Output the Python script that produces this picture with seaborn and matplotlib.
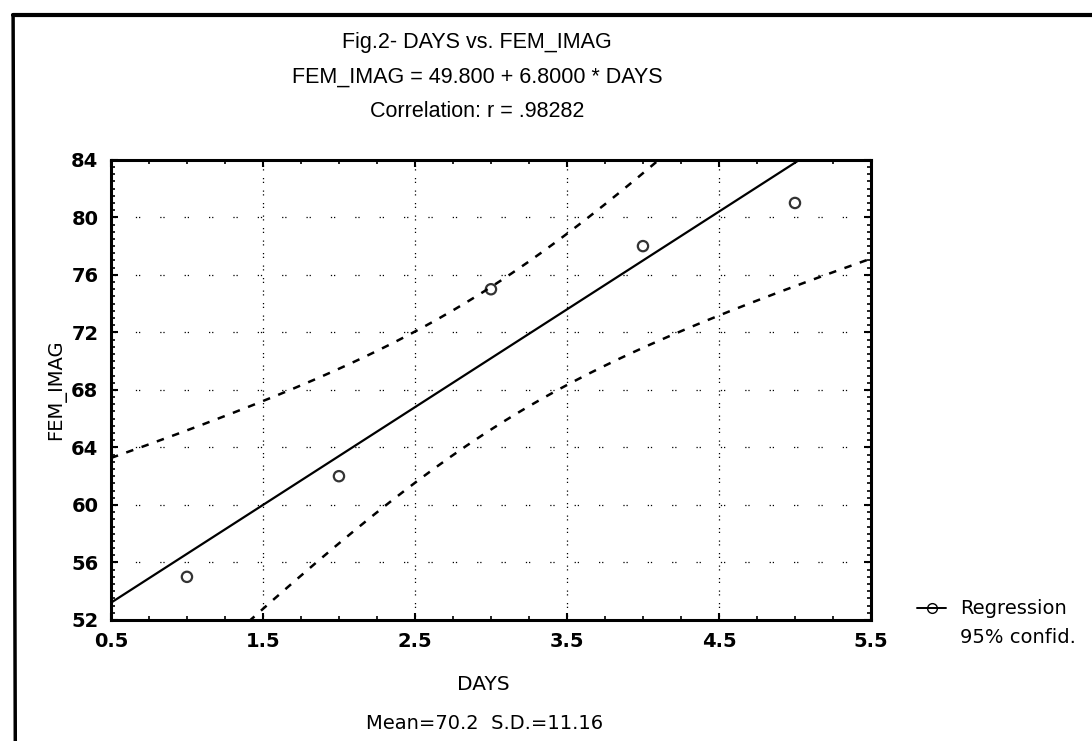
import numpy as np
import pandas as pd
import matplotlib
matplotlib.use("Agg")
import matplotlib.pyplot as plt
from matplotlib.lines import Line2D
from matplotlib.ticker import MultipleLocator
import seaborn as sns

# ---- data ----
days = [1, 2, 3, 4, 5]
fem_imag = [55, 62, 75, 78, 81]
x_ticks = [0.5, 1.5, 2.5, 3.5, 4.5, 5.5]
y_ticks = [52, 56, 60, 64, 68, 72, 76, 80, 84]
title_lines = ["Fig.2- DAYS vs. FEM_IMAG",
               "FEM_IMAG = 49.800 + 6.8000 * DAYS",
               "Correlation: r = .98282"]
footer = "Mean=70.2  S.D.=11.16"
legend_labels = ["Regression", "95% confid."]
T_975_DF3 = 3.182  # Student t quantile, 95% two-sided, df = n-2 = 3

df = pd.DataFrame({"DAYS": days, "FEM_IMAG": fem_imag})

sns.set_theme(style="white")
plt.rcParams['font.family'] = ['DejaVu Sans']
plt.rcParams.update({"text.color": "black", "axes.labelcolor": "black",
                     "xtick.color": "black", "ytick.color": "black"})

fig = plt.figure(figsize=(10.92, 7.41), dpi=100)
fig.patch.set_facecolor("white")
ax = fig.add_axes([0.1016, 0.1633, 0.696, 0.621])
ax.set_xlim(0.5, 5.5)
ax.set_ylim(52, 84)

# regression line + points
sns.regplot(data=df, x="DAYS", y="FEM_IMAG", ax=ax, ci=None, truncate=False,
            scatter_kws=dict(marker="o", s=55, facecolors="none",
                             edgecolors="black", linewidths=1.6, zorder=4),
            line_kws=dict(color="black", lw=1.6, zorder=3))

# 95% confidence band of the mean (computed from data)
x = np.asarray(days, float)
y = np.asarray(fem_imag, float)
n = len(x)
b, a = np.polyfit(x, y, 1)
resid = y - (a + b * x)
s = np.sqrt(np.sum(resid ** 2) / (n - 2))
xs = np.linspace(0.5, 5.5, 200)
se = s * np.sqrt(1.0 / n + (xs - x.mean()) ** 2 / np.sum((x - x.mean()) ** 2))
yhat = a + b * xs
ax.plot(xs, yhat + T_975_DF3 * se, color="black", lw=1.8, ls=(0, (3, 3.5)), zorder=3)
ax.plot(xs, yhat - T_975_DF3 * se, color="black", lw=1.8, ls=(0, (3, 3.5)), zorder=3)

# ticks / grid
ax.set_xticks(x_ticks)
ax.set_yticks(y_ticks)
ax.set_xticklabels([f"{t:.1f}" for t in x_ticks])
ax.set_yticklabels([str(t) for t in y_ticks])
ax.xaxis.set_minor_locator(MultipleLocator(0.25))
ax.yaxis.set_minor_locator(MultipleLocator(0.5))
ax.tick_params(which="both", direction="in", top=True, right=True,
               bottom=True, left=True, color="black", labelcolor="black")
ax.tick_params(which="major", length=5, width=1.5, labelsize=14, pad=9)
ax.tick_params(which="minor", length=3, width=1.2)
for lab in ax.get_xticklabels() + ax.get_yticklabels():
    lab.set_fontweight("bold")
ax.xaxis.grid(True, which="major", color="black", lw=0.9, ls=(0, (1, 2, 1, 6)))
ax.yaxis.grid(True, which="major", color="black", lw=0.9, ls=(0, (1, 1.5, 1, 16)))
for sp in ax.spines.values():
    sp.set_visible(True)
    sp.set_color("black")
    sp.set_linewidth(2.2)

ax.set_xlabel("DAYS", fontsize=14.5, color="black")
ax.xaxis.set_label_coords(0.49, -0.141)
ax.xaxis.label.set_va("center")
ax.set_ylabel("FEM_IMAG", fontsize=14, color="black")
ax.yaxis.set_label_coords(-0.072, 0.5)
ax.yaxis.label.set_va("center")

# titles
for yy, t in zip([0.942, 0.896, 0.850], title_lines):
    fig.text(0.437, yy, t, ha="center", va="center", fontsize=15.5,
             family="Liberation Sans", color="black")
fig.text(0.444, 0.024, footer, ha="center", va="center", fontsize=14, color="black")

# legend
handles = [Line2D([0], [0], color="black", lw=1.4, marker="o", markersize=7,
                  markerfacecolor="none", markeredgecolor="black"),
           Line2D([0], [0], color="none")]
leg = fig.legend(handles, legend_labels, loc="upper left",
                 bbox_to_anchor=(0.840, 0.191), frameon=False, fontsize=14,
                 handlelength=1.5, handletextpad=0.7, labelspacing=0.5,
                 borderpad=0, borderaxespad=0, labelcolor="black")

# outer frame (top and left lines)
fig.add_artist(Line2D([0.012, 1.0], [0.980, 0.980], color="black", lw=3,
                      transform=fig.transFigure))
fig.add_artist(Line2D([0.012, 0.014], [0.980, 0.0], color="black", lw=2.5,
                      transform=fig.transFigure))

fig.savefig("out.png", dpi=100, facecolor="white")
